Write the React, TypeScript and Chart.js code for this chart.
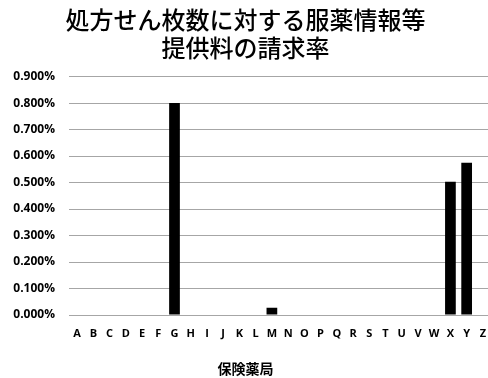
import React, { useEffect, useRef } from "react";
import { Chart, registerables } from "chart.js";

Chart.register(...registerables);

// Pharmacies A–Z
const pharmacies = [
  "A", "B", "C", "D", "E", "F", "G", "H", "I", "J", "K", "L", "M",
  "N", "O", "P", "Q", "R", "S", "T", "U", "V", "W", "X", "Y", "Z",
];

// Claim rate (%) of medication information provision fee per prescription
const claimRates = [
  0, 0, 0, 0, 0, 0, 0.8, 0, 0, 0, 0, 0, 0.027,
  0, 0, 0, 0, 0, 0, 0, 0, 0, 0, 0.503, 0.575, 0,
];

const titleLines = ["処方せん枚数に対する服薬情報等", "提供料の請求率"];
const xAxisTitle = "保険薬局";
const yMax = 0.9;
const yStep = 0.1;

const CANVAS_W = 508;
const CANVAS_H = 378;

export default function App() {
  const canvasRef = useRef<HTMLCanvasElement | null>(null);

  useEffect(() => {
    const canvas = canvasRef.current;
    if (!canvas) return;
    const chart = new Chart(canvas, {
      type: "bar",
      data: {
        labels: pharmacies,
        datasets: [
          {
            data: claimRates,
            backgroundColor: "#000000",
            borderWidth: 0,
            barPercentage: 0.66,
            categoryPercentage: 1,
          },
        ],
      },
      options: {
        responsive: false,
        animation: false,
        layout: { padding: { left: 0, right: 17, top: 0, bottom: 0 } },
        plugins: {
          legend: { display: false },
          tooltip: { enabled: false },
          title: {
            display: true,
            text: titleLines,
            color: "#000000",
            font: { family: "'Noto Sans CJK JP'", size: 24, weight: 500, lineHeight: 1.2 },
            padding: { top: 5, bottom: 14 },
          },
          subtitle: {
            display: true,
            position: "bottom",
            text: xAxisTitle,
            color: "#000000",
            font: { family: "'Noto Sans CJK JP'", size: 14, weight: "bold", lineHeight: 1.2 },
            padding: { top: 8, bottom: 1 },
          },
        },
        scales: {
          x: {
            grid: { display: false, drawTicks: false },
            border: { display: true, color: "#a6a6a6", width: 1 },
            ticks: {
              color: "#000000",
              padding: 12,
              maxRotation: 0,
              autoSkip: false,
              font: { family: "'Open Sans'", size: 11, weight: "bold" },
            },
          },
          y: {
            min: 0,
            max: yMax,
            afterFit: (scale: any) => {
              scale.width = 69;
            },
            grid: { color: "#a6a6a6", lineWidth: 1, drawTicks: false },
            border: { display: false },
            ticks: {
              stepSize: yStep,
              color: "#000000",
              padding: 14,
              font: { family: "'Open Sans'", size: 12, weight: "bold" },
              callback: (v: any) => Number(v).toFixed(3) + "%",
            },
          },
        },
      },
    });
    return () => chart.destroy();
  }, []);

  return (
    <div
      style={{
        position: "fixed",
        left: 0,
        top: 0,
        width: 488,
        height: CANVAS_H,
        overflow: "hidden",
        background: "#ffffff",
      }}
    >
      <canvas
        ref={canvasRef}
        width={CANVAS_W}
        height={CANVAS_H}
        style={{ width: CANVAS_W, height: CANVAS_H, display: "block" }}
      />
    </div>
  );
}
